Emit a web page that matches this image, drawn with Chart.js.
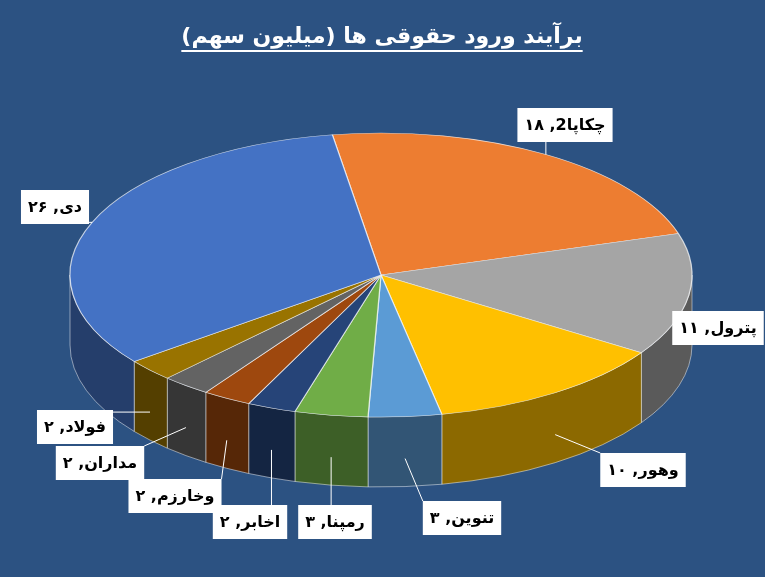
<!DOCTYPE html>
<html><head><meta charset="utf-8">
<script src="https://cdn.jsdelivr.net/npm/chart.js@4.4.0/dist/chart.umd.min.js"></script>
<style>html,body{margin:0;padding:0;background:#2C5282;}canvas{display:block}</style>
</head><body>
<canvas id="c" width="765" height="577"></canvas>
<script>
const categories = ['چکاپا2','پترول','وهور','تنوین','رمپنا','اخابر','وخارزم','مداران','فولاد','دی'];
const values = [18, 11, 10, 3, 3, 2, 2, 2, 2, 26];
const valueLabels = ['۱۸','۱۱','۱۰','۳','۳','۲','۲','۲','۲','۲۶'];
const colors = ['#ED7D31','#A5A5A5','#FFC000','#5B9BD5','#70AD47','#264478','#9E480E','#636363','#997300','#4472C4'];
const labelBoxes = [[565,125],[718,328],[643,470],[462,518],[335,522],[250,522],[175,496],[100,463],[75,427],[55,207]];
const titleText = 'برآیند ورود حقوقی ها (میلیون سهم)';

const E = {cx:381, cy:275, rx:311, ry:142, depth:70};
function darken(hex,f){const n=parseInt(hex.slice(1),16);const r=(n>>16)*f|0,g=((n>>8)&255)*f|0,b=(n&255)*f|0;return `rgb(${r},${g},${b})`;}
function norm(a){a=a%(2*Math.PI);if(a<0)a+=2*Math.PI;return a;}

const pie3d = {
  id:'pie3d',
  beforeDatasetsDraw(chart){
    const ctx=chart.ctx, meta=chart.getDatasetMeta(0);
    const a0=meta.data[0];
    ctx.save();
    meta.data.forEach((arc,i)=>{
      let s=norm(arc.startAngle), e=s+(arc.endAngle-arc.startAngle);
      const segs=[[s,e],[s-2*Math.PI,e-2*Math.PI],[s+2*Math.PI,e+2*Math.PI]];
      segs.forEach(([a,b])=>{
        const lo=Math.max(a,0), hi=Math.min(b,Math.PI);
        if(hi<=lo) return;
        ctx.beginPath();
        ctx.ellipse(E.cx,E.cy,E.rx,E.ry,0,lo,hi,false);
        ctx.ellipse(E.cx,E.cy+E.depth,E.rx,E.ry,0,hi,lo,true);
        ctx.closePath();
        ctx.fillStyle=darken(colors[i],0.55);
        ctx.fill();
        ctx.strokeStyle='rgba(255,255,255,0.6)';ctx.lineWidth=0.8;ctx.stroke();
      });
    });
    ctx.restore();
    ctx.save();
    const sx=E.rx/a0.outerRadius, sy=E.ry/a0.outerRadius;
    ctx.translate(E.cx,E.cy); ctx.scale(sx,sy); ctx.translate(-a0.x,-a0.y);
  },
  afterDatasetsDraw(chart){
    const ctx=chart.ctx; ctx.restore();
    const meta=chart.getDatasetMeta(0);
    ctx.save();
    ctx.font='bold 22px "DejaVu Sans", "Noto Sans", sans-serif';
    ctx.fillStyle='#fff';ctx.textAlign='center';ctx.textBaseline='middle';ctx.direction='rtl';
    ctx.fillText(titleText,382,37);
    const w=ctx.measureText(titleText).width;
    ctx.fillRect(382-w/2,50,w,2);
    ctx.font='bold 16px "DejaVu Sans", "Noto Sans", sans-serif';
    meta.data.forEach((arc,i)=>{
      const mid=(arc.startAngle+arc.endAngle)/2;
      let px=E.cx+E.rx*Math.cos(mid), py=E.cy+E.ry*Math.sin(mid);
      if(Math.sin(norm(mid))>0.05) py+=E.depth*0.6;
      const [bx,by]=labelBoxes[i];
      const txt=categories[i]+', '+valueLabels[i];
      const tw=ctx.measureText(txt).width+14, th=34;
      ctx.strokeStyle='#fff';ctx.lineWidth=1;
      ctx.beginPath();
      const ex=Math.max(bx-tw/2,Math.min(bx+tw/2,px)), ey=Math.max(by-th/2,Math.min(by+th/2,py));
      ctx.moveTo(ex,ey);ctx.lineTo(px,py);ctx.stroke();
      ctx.fillStyle='#fff';ctx.fillRect(bx-tw/2,by-th/2,tw,th);
      ctx.fillStyle='#000';ctx.fillText(txt,bx,by+1);
    });
    ctx.restore();
  }
};

new Chart(document.getElementById('c'),{
  type:'pie',
  data:{labels:categories,datasets:[{data:values,backgroundColor:colors,borderColor:'rgba(255,255,255,0.7)',borderWidth:1}]},
  options:{responsive:false,animation:false,rotation:-9,
    layout:{padding:40},
    plugins:{legend:{display:false},tooltip:{enabled:false},title:{display:false}}},
  plugins:[pie3d]
});
</script>
</body></html>
